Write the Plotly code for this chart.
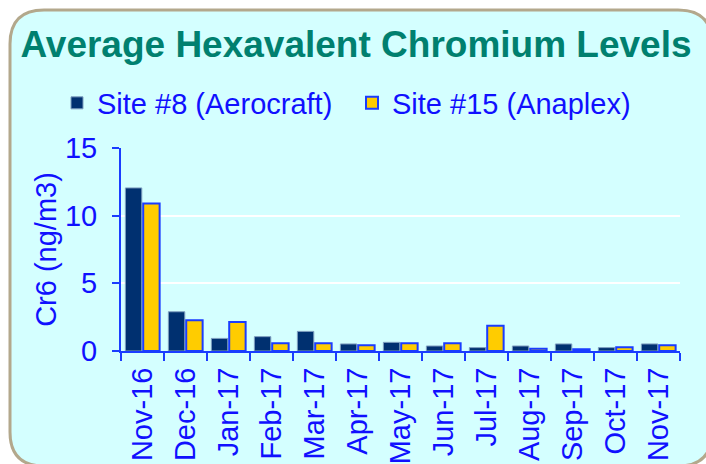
import plotly.graph_objects as go

months = ["Nov-16", "Dec-16", "Jan-17", "Feb-17", "Mar-17", "Apr-17", "May-17",
          "Jun-17", "Jul-17", "Aug-17", "Sep-17", "Oct-17", "Nov-17"]
site8 = [12.05, 2.9, 0.93, 1.06, 1.45, 0.52, 0.64, 0.37, 0.25, 0.37, 0.52, 0.25, 0.52]
site15 = [10.9, 2.27, 2.14, 0.57, 0.57, 0.42, 0.57, 0.57, 1.87, 0.17, 0.13, 0.27, 0.42]
y_ticks = [0, 5, 10, 15]

W, H = 706, 464
L, R, T, B = 121, 26, 148, 113
pw, ph = W - L - R, H - T - B

def px(x):
    return (x - L) / pw

def py(y):
    return 1 - (y - T) / ph

fig = go.Figure()
fig.add_trace(go.Bar(x=months, y=site8, name="Site #8 (Aerocraft)",
                     marker=dict(color="#003070", line=dict(color="#7f9fc0", width=1))))
fig.add_trace(go.Bar(x=months, y=site15, name="Site #15 (Anaplex)",
                     marker=dict(color="#FFCC00", line=dict(color="#1a3cff", width=2))))

# rounded frame
x0, y0, x1, y1, r = 10, 10, 712, 466, 34
path = (f"M {px(x0)},{py(y0 + r)} Q {px(x0)},{py(y0)} {px(x0 + r)},{py(y0)} "
        f"L {px(x1 - r)},{py(y0)} Q {px(x1)},{py(y0)} {px(x1)},{py(y0 + r)} "
        f"L {px(x1)},{py(y1 - r)} Q {px(x1)},{py(y1)} {px(x1 - r)},{py(y1)} "
        f"L {px(x0 + r)},{py(y1)} Q {px(x0)},{py(y1)} {px(x0)},{py(y1 - r)} Z")
fig.add_shape(type="path", path=path, xref="paper", yref="paper", layer="below",
              fillcolor="#D4FFFF", line=dict(color="#B3A88C", width=3))

font = "Arial, Liberation Sans, sans-serif"
fs = 29
fig.update_layout(
    width=W, height=H,
    margin=dict(l=L, r=R, t=T, b=B, autoexpand=False),
    paper_bgcolor="white",
    plot_bgcolor="rgba(0,0,0,0)",
    font=dict(family=font, color="#1010ff", size=fs),
    title=dict(text="<b>Average Hexavalent Chromium Levels</b>",
               font=dict(family=font, size=37, color="#00806F"),
               x=356 / W, xref="container", xanchor="center",
               y=1 - 44 / H, yanchor="middle"),
    barmode="group", bargap=0.17, bargroupgap=0.08,
    showlegend=True,
    legend=dict(orientation="h", x=(57 - L) / pw, xanchor="left", y=py(103), yanchor="middle",
                font=dict(size=fs, color="#1010ff"), bgcolor="rgba(0,0,0,0)",
                entrywidth=250, entrywidthmode="pixels", traceorder="normal",
                itemwidth=30),
    xaxis=dict(type="category", tickangle=-90, showline=True, linecolor="#1a3cff", linewidth=2,
               ticks="outside", tickson="boundaries", ticklen=8, tickcolor="#1a3cff", tickwidth=2,
               showgrid=False, automargin=False, ticklabelstandoff=3,
               tickfont=dict(size=fs, color="#1010ff")),
    yaxis=dict(range=[0, 15], tickvals=y_ticks, showline=True, linecolor="#1a3cff", linewidth=2,
               ticks="outside", ticklen=7, tickcolor="#1a3cff", tickwidth=2,
               showgrid=True, gridcolor="white", gridwidth=2, zeroline=False,
               automargin=True, ticklabelstandoff=9,
               tickfont=dict(size=fs, color="#1010ff"),
               title=dict(text="Cr6 (ng/m3)", font=dict(size=fs, color="#1010ff"), standoff=0)),
)

fig.write_html("out.html", config={"displayModeBar": False},
               post_script="document.body.style.margin='0';document.body.style.overflow='hidden';")
